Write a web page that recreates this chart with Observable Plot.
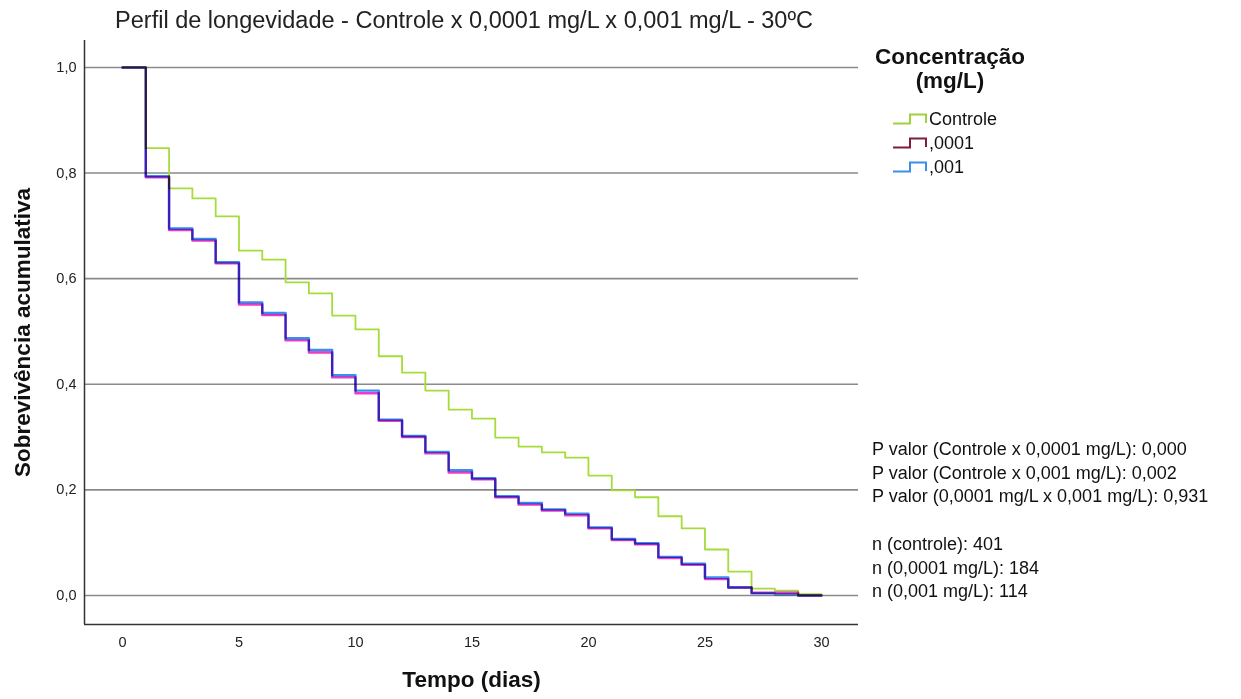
<!DOCTYPE html>
<html><head><meta charset="utf-8">
<script src="https://cdn.jsdelivr.net/npm/d3@7"></script>
<script src="https://cdn.jsdelivr.net/npm/@observablehq/plot@0.6"></script>
<style>
body{margin:0;background:#fff;font-family:"Liberation Sans",Arial,sans-serif;color:#111;}
#wrap{position:relative;width:1241px;height:699px;overflow:hidden;}
#chart{position:absolute;left:0;top:0;}
#title{position:absolute;left:0;top:6px;width:928px;text-align:center;font-size:23.5px;line-height:28px;color:#222;white-space:nowrap;}
#legend{position:absolute;left:850px;top:45px;width:200px;}
#legend .ttl{text-align:center;font-weight:bold;font-size:22.5px;line-height:24px;}
#legend .item{position:relative;height:24px;font-size:18px;line-height:24px;padding-left:79px;}
#legend .item svg{position:absolute;left:42px;top:2px;}
#notes{position:absolute;left:872px;top:438px;font-size:18px;line-height:23.7px;white-space:pre;}
</style></head><body><div id="wrap"><div id="chart"></div><div id="title"></div><div id="legend"></div><div id="notes"></div></div>
<script>
const days = [0,1,2,3,4,5,6,7,8,9,10,11,12,13,14,15,16,17,18,19,20,21,22,23,24,25,26,27,28,29,30];
const seriesNames = ["Controle", ",0001", ",001"];
const controle = [1.0,0.847,0.771,0.752,0.718,0.653,0.636,0.593,0.572,0.530,0.504,0.453,0.422,0.388,0.352,0.335,0.299,0.282,0.271,0.261,0.227,0.199,0.186,0.150,0.127,0.087,0.045,0.013,0.009,0.0025,0.0];
const c0001 = [1.0,0.792,0.692,0.672,0.629,0.551,0.531,0.483,0.460,0.413,0.383,0.331,0.300,0.269,0.233,0.220,0.186,0.172,0.161,0.152,0.127,0.105,0.097,0.071,0.058,0.031,0.015,0.005,0.005,0.0,0.0];
const c001 = [1.0,0.794,0.695,0.675,0.631,0.555,0.535,0.487,0.465,0.417,0.388,0.333,0.302,0.272,0.237,0.222,0.188,0.175,0.163,0.155,0.129,0.107,0.099,0.073,0.060,0.034,0.015,0.004,0.002,0.0,0.0];
const xTicks = [0,5,10,15,20,25,30];
const yTicks = [0,0.2,0.4,0.6,0.8,1.0];
const xDomain = [-1.63, 31.59];
const yDomain = [-0.055, 1.051];
const legendColors = ["#9fd13c", "#7a1f3d", "#3a8fe6"];
const lineColors = ["#a6dc3a", "#ec3cc4", "#3a8ef0"];
const title = "Perfil de longevidade - Controle x 0,0001 mg/L x 0,001 mg/L - 30ºC";
const legendTitle = ["Concentração", "(mg/L)"];
const notes = [
  "P valor (Controle x 0,0001 mg/L): 0,000",
  "P valor (Controle x 0,001 mg/L): 0,002",
  "P valor (0,0001 mg/L x 0,001 mg/L): 0,931",
  "",
  "n (controle): 401",
  "n (0,0001 mg/L): 184",
  "n (0,001 mg/L): 114"
];

const allValues = [controle, c0001, c001];
const data = [];
seriesNames.forEach((s, k) => days.forEach((d, i) => data.push({serie: s, dia: d, sobrev: allValues[k][i]})));
const fmt = d => d3.format(".1f")(d).replace(".", ",");

const chart = Plot.plot({
  width: 1241, height: 699,
  marginLeft: 84, marginRight: 383, marginTop: 40, marginBottom: 75,
  style: {fontFamily: "'Liberation Sans', Arial, sans-serif", fontSize: "14.5px", color: "#222", background: "white"},
  x: {domain: xDomain},
  y: {domain: yDomain},
  marks: [
    Plot.gridY(yTicks, {stroke: "#8a8a8a", strokeOpacity: 1, strokeWidth: 1.6}),
    Plot.axisY(yTicks, {tickSize: 0, tickPadding: 8, tickFormat: fmt, label: null}),
    Plot.axisX(xTicks, {tickSize: 0, tickPadding: 12, label: null}),
    Plot.ruleX([xDomain[0]], {stroke: "#333", strokeWidth: 1.5}),
    Plot.ruleY([yDomain[0]], {stroke: "#333", strokeWidth: 1.5}),
    Plot.line(data.filter(d => d.serie === seriesNames[0]), {x: "dia", y: "sobrev", curve: "step-after", stroke: lineColors[0], strokeWidth: 1.8}),
    Plot.line(data.filter(d => d.serie === seriesNames[1]), {x: "dia", y: "sobrev", curve: "step-after", stroke: lineColors[1], strokeWidth: 2.4, mixBlendMode: "multiply"}),
    Plot.line(data.filter(d => d.serie === seriesNames[2]), {x: "dia", y: "sobrev", curve: "step-after", stroke: lineColors[2], strokeWidth: 2.4, mixBlendMode: "multiply"}),
    Plot.text(["Sobrevivência acumulativa"], {frameAnchor: "left", dx: -62, rotate: -90, textAnchor: "middle", fontSize: 22.5, fontWeight: "bold", fill: "#111"}),
    Plot.text(["Tempo (dias)"], {frameAnchor: "bottom", dy: 62, fontSize: 22.5, fontWeight: "bold", fill: "#111"})
  ]
});
document.getElementById("chart").append(chart);
document.getElementById("title").textContent = title;

const lg = document.getElementById("legend");
legendTitle.forEach(t => { const d = document.createElement("div"); d.className = "ttl"; d.textContent = t; lg.append(d); });
const sp = document.createElement("div"); sp.style.height = "14px"; lg.append(sp);
seriesNames.forEach((s, k) => {
  const it = document.createElement("div"); it.className = "item";
  it.innerHTML = `<svg width="36" height="18"><path d="M1,14.5H18V5.5H34V14" fill="none" stroke="${legendColors[k]}" stroke-width="2"/></svg>`;
  const sp2 = document.createElement("span"); sp2.textContent = s; it.append(sp2);
  lg.append(it);
});
document.getElementById("notes").textContent = notes.join("\n");
</script></body></html>
